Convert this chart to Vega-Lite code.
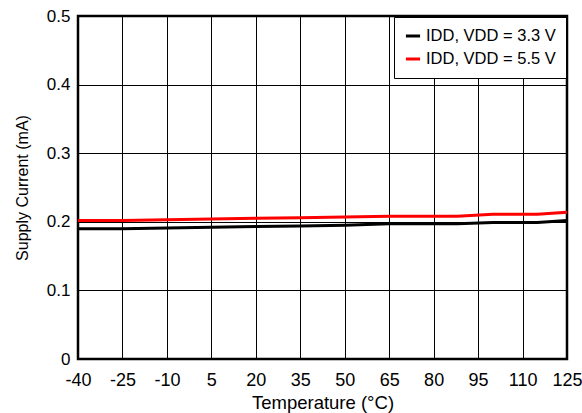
{
  "$schema": "https://vega.github.io/schema/vega-lite/v6.json",
  "width": 489,
  "height": 343,
  "autosize": {"type": "none"},
  "padding": {"left": 78, "top": 16, "right": 15, "bottom": 54},
  "background": "white",
  "config": {
    "font": "Liberation Sans",
    "view": {"stroke": "black", "strokeWidth": 2.5},
    "axis": {
      "labelFont": "Liberation Sans",
      "titleFont": "Liberation Sans",
      "labelFontSize": 16.5,
      "titleFontSize": 16.5,
      "titleFontWeight": "normal",
      "labelColor": "black",
      "titleColor": "black",
      "gridColor": "black",
      "gridOpacity": 1,
      "gridWidth": 1,
      "domain": false,
      "ticks": false,
      "labelFlush": false,
      "labelOverlap": false
    }
  },
  "data": {
    "values": [
      {"t": -40, "i": 0.202, "s": "IDD, VDD = 5.5 V"},
      {"t": -25, "i": 0.202, "s": "IDD, VDD = 5.5 V"},
      {"t": -10, "i": 0.203, "s": "IDD, VDD = 5.5 V"},
      {"t": 5, "i": 0.204, "s": "IDD, VDD = 5.5 V"},
      {"t": 20, "i": 0.205, "s": "IDD, VDD = 5.5 V"},
      {"t": 35, "i": 0.206, "s": "IDD, VDD = 5.5 V"},
      {"t": 50, "i": 0.207, "s": "IDD, VDD = 5.5 V"},
      {"t": 65, "i": 0.208, "s": "IDD, VDD = 5.5 V"},
      {"t": 80, "i": 0.208, "s": "IDD, VDD = 5.5 V"},
      {"t": 88, "i": 0.208, "s": "IDD, VDD = 5.5 V"},
      {"t": 100, "i": 0.211, "s": "IDD, VDD = 5.5 V"},
      {"t": 115, "i": 0.211, "s": "IDD, VDD = 5.5 V"},
      {"t": 125, "i": 0.214, "s": "IDD, VDD = 5.5 V"},
      {"t": -40, "i": 0.190, "s": "IDD, VDD = 3.3 V"},
      {"t": -25, "i": 0.190, "s": "IDD, VDD = 3.3 V"},
      {"t": -10, "i": 0.191, "s": "IDD, VDD = 3.3 V"},
      {"t": 5, "i": 0.192, "s": "IDD, VDD = 3.3 V"},
      {"t": 20, "i": 0.193, "s": "IDD, VDD = 3.3 V"},
      {"t": 35, "i": 0.194, "s": "IDD, VDD = 3.3 V"},
      {"t": 50, "i": 0.195, "s": "IDD, VDD = 3.3 V"},
      {"t": 65, "i": 0.197, "s": "IDD, VDD = 3.3 V"},
      {"t": 80, "i": 0.197, "s": "IDD, VDD = 3.3 V"},
      {"t": 88, "i": 0.197, "s": "IDD, VDD = 3.3 V"},
      {"t": 100, "i": 0.199, "s": "IDD, VDD = 3.3 V"},
      {"t": 115, "i": 0.199, "s": "IDD, VDD = 3.3 V"},
      {"t": 125, "i": 0.202, "s": "IDD, VDD = 3.3 V"}
    ]
  },
  "mark": {"type": "line", "strokeWidth": 3},
  "encoding": {
    "x": {
      "field": "t",
      "type": "quantitative",
      "title": "Temperature (°C)",
      "scale": {"domain": [-40, 125], "nice": false, "zero": false},
      "axis": {"values": [-40, -25, -10, 5, 20, 35, 50, 65, 80, 95, 110, 125], "labelExpr": "replace(datum.label, '−', '-')", "labelFontSize": 18, "titleFontSize": 18.5, "labelPadding": 12, "titlePadding": 4}
    },
    "y": {
      "field": "i",
      "type": "quantitative",
      "title": "Supply Current (mA)",
      "scale": {"domain": [0, 0.5], "nice": false},
      "axis": {"values": [0, 0.1, 0.2, 0.3, 0.4, 0.5], "format": ".1~f", "labelFontSize": 17, "titleFontSize": 16, "labelPadding": 8, "titlePadding": 16}
    },
    "color": {
      "field": "s",
      "type": "nominal",
      "title": null,
      "scale": {"domain": ["IDD, VDD = 3.3 V", "IDD, VDD = 5.5 V"], "range": ["black", "#ff0000"]},
      "legend": {
        "orient": "top-right",
        "offset": 1,
        "fillColor": "white",
        "strokeColor": "black",
        "padding": 10,
        "symbolType": "stroke",
        "symbolStrokeWidth": 3,
        "symbolSize": 200,
        "labelFontSize": 16.5,
        "labelFont": "Liberation Sans",
        "labelColor": "black",
        "rowPadding": 5
      }
    }
  }
}
